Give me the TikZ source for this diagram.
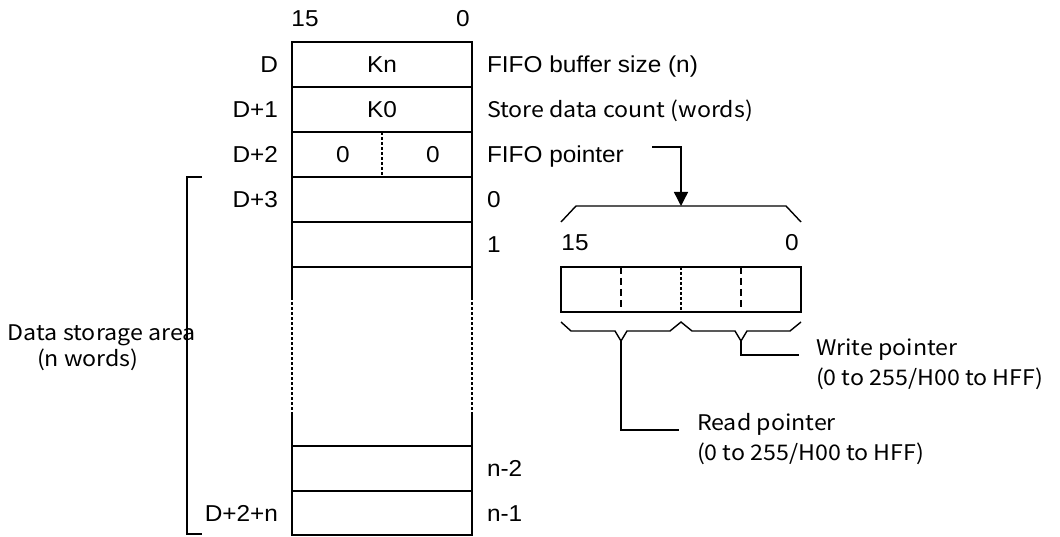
\documentclass[tikz,border=0pt]{standalone}
\usepackage{fontspec}
\newfontfamily\arialf[FakeStretch=1.06]{Liberation Sans}
\newfontfamily\gothf[FakeStretch=1.08]{Noto Sans CJK JP}
\usetikzlibrary{arrows.meta}
\begin{document}
\begin{tikzpicture}[x=1pt,y=-1pt,
  ln/.style={line width=1.4pt, line join=miter},
  dotl/.style={line width=1.2pt, dash pattern=on 3pt off 2pt},
  dashl/.style={line width=1.3pt, dash pattern=on 7pt off 4pt},
  af/.style={font=\arialf\fontsize{23}{27}\selectfont, inner sep=0pt, outer sep=0pt},
  gf/.style={font=\gothf\fontsize{21.5}{30}\selectfont, inner sep=0pt, outer sep=0pt},
  ll/.style={af, anchor=base east},
  rl/.style={af, anchor=base west},
  cl/.style={af, anchor=base},
  gl/.style={gf, anchor=base west},
]
\useasboundingbox (0,0) rectangle (1060,537);
% ---------- table frame ----------
\draw[ln] (292,297) -- (292,42) -- (472,42) -- (472,297);
\foreach \yy in {87,132,177,222,267}{\draw[ln] (292,\yy) -- (472,\yy);}
\draw[dotl] (292,297) -- (292,415);
\draw[dotl] (472,297) -- (472,415);
\draw[ln] (292,415) -- (292,535) -- (472,535) -- (472,415);
\draw[ln] (292,446) -- (472,446);
\draw[ln] (292,491) -- (472,491);
\draw[dotl] (382,132) -- (382,177);
% ---------- bit numbers ----------
\node[cl] (b15) at (305,27) {15};
\node[cl] (b0) at (463,27) {0};
% ---------- left labels ----------
\node[ll] (lD) at (278,72.5) {D};
\node[ll] (lD1) at (278,117.5) {D+1};
\node[ll] (lD2) at (278,162.5) {D+2};
\node[ll] (lD3) at (278,207.5) {D+3};
\node[ll] (lDn) at (278,521) {D+2+n};
% ---------- cell contents ----------
\node[cl] (kn) at (382,72.5) {Kn};
\node[cl] (k0) at (382,117.5) {K0};
\node[cl] (z1) at (343,162.5) {0};
\node[cl] (z2) at (433,162.5) {0};
% ---------- right labels ----------
\node[rl] (fbs) at (487,72.5) {FIFO buffer size (n)};
\node[gl] (sdc) at (487,117.5) {Store data count (words)};
\node[rl] (fp) at (487,162.5) {FIFO pointer};
\node[rl] (r0) at (487,207.5) {0};
\node[rl] (r1) at (487,252.5) {1};
\node[rl] (rn2) at (487,476.5) {n-2};
\node[rl] (rn1) at (487,521) {n-1};
% ---------- left bracket ----------
\draw[ln] (202,177) -- (187,177) -- (187,534) -- (202,534);
\node[gl] (dsa) at (8,340) {Data storage area};
\node[gl] (nw) at (37,366) {(n words)};
% ---------- FIFO pointer arrow ----------
\coordinate (fpa) at (652,147);
\coordinate (fpb) at (681,147);
\coordinate (fpc) at (681,206);
\draw[ln, -{Triangle[length=14pt,width=14pt]}] (fpa) -- (fpb) -- (fpc);
% ---------- upper brace ----------
\draw[ln] (561,222) -- (576,206) -- (786,206) -- (801,222);
\node[cl] (c15) at (575,251) {15};
\node[cl] (c0) at (792,251) {0};
% ---------- register box ----------
\draw[ln] (561,267) rectangle (801,312);
\draw[dashl] (621,267) -- (621,312);
\draw[dotl] (681,267) -- (681,312);
\draw[dashl] (741,267) -- (741,312);
% ---------- lower brace ----------
\draw[ln] (561,322) -- (571,331) -- (615,331) -- (621,341) -- (627,331) -- (670,331)
  -- (681,322) -- (692,331) -- (735,331) -- (741,341) -- (747,331) -- (790,331) -- (801,322);
% ---------- write pointer ----------
\coordinate (wv) at (741,341);
\coordinate (wc) at (741,355);
\coordinate (we) at (799,355);
\draw[ln] (wv) -- (wc) -- (we);
\node[gl] (wp) at (816,355) {Write pointer};
\node[gl] (wr) at (816,385) {(0 to 255/H00 to HFF)};
% ---------- read pointer ----------
\coordinate (rv) at (621,341);
\coordinate (rc) at (621,430);
\coordinate (re) at (679,430);
\draw[ln] (rv) -- (rc) -- (re);
\node[gl] (rp) at (697,430) {Read pointer};
\node[gl] (rr) at (697,460) {(0 to 255/H00 to HFF)};
\end{tikzpicture}
\end{document}
